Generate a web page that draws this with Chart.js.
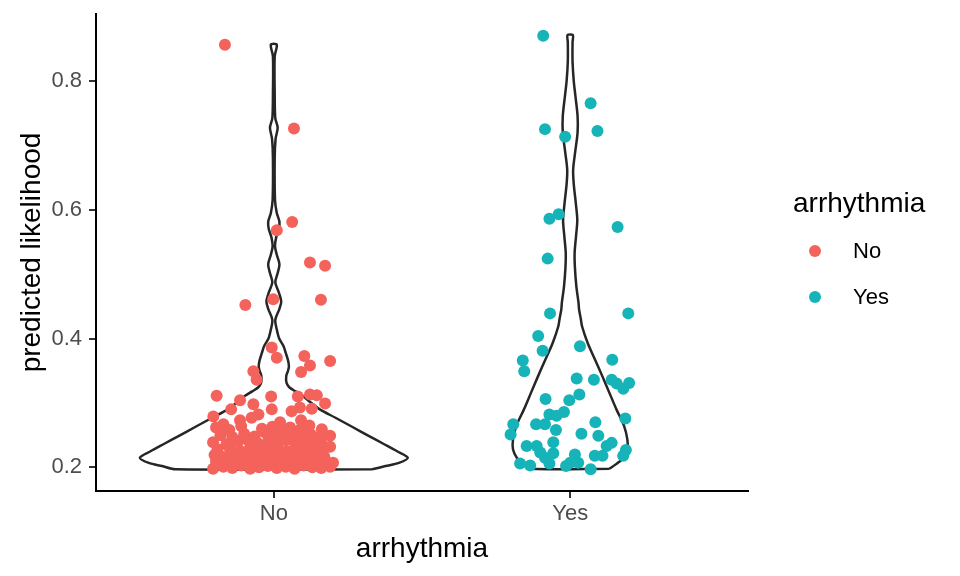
<!DOCTYPE html>
<html>
<head>
<meta charset="utf-8">
<script src="https://cdn.jsdelivr.net/npm/chart.js@4.4.1/dist/chart.umd.min.js"></script>
<style>
  html, body { margin: 0; padding: 0; background: #fff; }
  #wrap { width: 960px; height: 576px; }
</style>
</head>
<body>
<div id="wrap"><canvas id="violin-chart"></canvas></div>
<script>
const categories = ['No', 'Yes'];
const yTicks = [0.2, 0.4, 0.6, 0.8];
const xTitle = 'arrhythmia';
const yTitle = 'predicted likelihood';
const legendTitle = 'arrhythmia';

// jitter offset from the category centre, and predicted likelihood
const noJitter = [
  -0.165, 0.068, 0.062, 0.010, 0.122, 0.173, -0.002, 0.159, -0.096,
  -0.007, 0.010, 0.103, 0.122, 0.190, 0.092, -0.069, -0.058,
  -0.193, -0.114, -0.009, 0.081, 0.122, 0.145, 0.173, -0.069, -0.144, -0.007, 0.060, 0.088, 0.128,
  -0.204, -0.052, -0.075, 0.092, 0.021, -0.114, -0.170, 0.162, 0.190,
  -0.205, -0.17, -0.14, -0.11, -0.08, -0.05, -0.02, 0.01, 0.04, 0.07, 0.10, 0.13, 0.16, 0.19,
  -0.195, -0.16, -0.125, -0.095, -0.06, -0.03, 0.0, 0.03, 0.055, 0.085, 0.115, 0.145, 0.175, 0.2,
  -0.2, -0.17, -0.135, -0.1, -0.07, -0.04, -0.01, 0.02, 0.05, 0.08, 0.11, 0.14, 0.17,
  -0.19, -0.15, -0.115, -0.08, -0.045, -0.015, 0.015, 0.045, 0.075, 0.105, 0.135, 0.165, 0.19,
  -0.205, -0.16, -0.12, -0.09, -0.055, -0.02, 0.01, 0.04, 0.07, 0.1, 0.13, 0.16,
  -0.18, -0.14, -0.1, -0.065, -0.03, 0.0, 0.035, 0.065, 0.095, 0.125, 0.155,
  -0.195, -0.15, -0.11, -0.04, -0.005, 0.025, 0.055, 0.09, 0.12
];
const noValues = [
  0.856, 0.726, 0.581, 0.568, 0.518, 0.513, 0.461, 0.460, 0.452,
  0.386, 0.370, 0.373, 0.358, 0.365, 0.348, 0.349, 0.336,
  0.311, 0.304, 0.310, 0.310, 0.313, 0.312, 0.299, 0.298, 0.290, 0.290, 0.287, 0.293, 0.291,
  0.279, 0.282, 0.277, 0.273, 0.270, 0.273, 0.267, 0.259, 0.249,
  0.198, 0.201, 0.199, 0.203, 0.198, 0.200, 0.202, 0.199, 0.201, 0.198, 0.203, 0.200, 0.199, 0.201,
  0.209, 0.211, 0.207, 0.212, 0.208, 0.210, 0.213, 0.207, 0.211, 0.209, 0.212, 0.208, 0.210, 0.207,
  0.219, 0.216, 0.221, 0.218, 0.222, 0.217, 0.220, 0.216, 0.221, 0.218, 0.215, 0.220, 0.217,
  0.228, 0.231, 0.226, 0.230, 0.227, 0.232, 0.229, 0.225, 0.231, 0.228, 0.230, 0.226, 0.232,
  0.239, 0.236, 0.241, 0.243, 0.238, 0.240, 0.236, 0.242, 0.239, 0.237, 0.241, 0.238,
  0.250, 0.247, 0.252, 0.248, 0.254, 0.250, 0.246, 0.253, 0.249, 0.251, 0.247,
  0.262, 0.258, 0.264, 0.260, 0.263, 0.257, 0.262, 0.259, 0.265
];
const yesJitter = [
  -0.091, 0.069, -0.085, -0.017, 0.092, -0.039, -0.070, 0.160, -0.076, -0.068, 0.196,
  -0.108, -0.093, 0.033, -0.160, -0.155, 0.142, 0.022, 0.080, 0.140, 0.157, 0.179, 0.199,
  -0.083, -0.003, 0.031, -0.021, -0.046, -0.070, 0.186, -0.192, -0.201, -0.115, -0.085,
  -0.048, 0.085, 0.038, 0.095, -0.057, -0.147, -0.113, 0.123, 0.140, -0.057, -0.101,
  -0.085, 0.016, 0.083, 0.109, 0.188, 0.179, -0.169, -0.135, -0.070, -0.014, 0.000, 0.027, 0.069
];
const yesValues = [
  0.870, 0.765, 0.725, 0.713, 0.722, 0.593, 0.586, 0.573, 0.524, 0.439, 0.439,
  0.404, 0.381, 0.388, 0.366, 0.349, 0.367, 0.338, 0.336, 0.336, 0.330, 0.322, 0.331,
  0.306, 0.304, 0.313, 0.286, 0.280, 0.282, 0.276, 0.267, 0.251, 0.267, 0.267,
  0.258, 0.270, 0.252, 0.249, 0.239, 0.233, 0.233, 0.233, 0.238, 0.222, 0.223,
  0.215, 0.220, 0.218, 0.218, 0.227, 0.218, 0.206, 0.203, 0.206, 0.202, 0.207, 0.207, 0.197
];

// violin outlines: likelihood level (bottom to top) and half width
const noViolinY = [
  0.197, 0.202, 0.207, 0.215, 0.225, 0.237, 0.249, 0.263, 0.277, 0.290, 0.303, 0.311, 0.318,
  0.324, 0.331, 0.342, 0.350, 0.357, 0.366, 0.378, 0.388, 0.400, 0.414, 0.429, 0.445, 0.457,
  0.470, 0.487, 0.500, 0.515, 0.530, 0.543, 0.557, 0.570, 0.581, 0.595, 0.615, 0.680, 0.710,
  0.727, 0.742, 0.780, 0.838, 0.856
];
const noViolinW = [
  0.332, 0.377, 0.422, 0.452, 0.416, 0.368, 0.320, 0.264, 0.208, 0.155, 0.118, 0.097, 0.073,
  0.053, 0.043, 0.042, 0.048, 0.051, 0.048, 0.040, 0.033, 0.018, 0.010, 0.005, 0.018, 0.025,
  0.018, 0.005, 0.012, 0.019, 0.010, 0.004, 0.008, 0.017, 0.019, 0.010, 0.004, 0.003, 0.006,
  0.013, 0.005, 0.003, 0.003, 0.010
];
const yesViolinY = [
  0.198, 0.205, 0.215, 0.228, 0.243, 0.264, 0.290, 0.316, 0.342, 0.367, 0.393, 0.419, 0.430,
  0.445, 0.456, 0.480, 0.510, 0.533, 0.560, 0.584, 0.610, 0.640, 0.662, 0.690, 0.720, 0.745,
  0.775, 0.800, 0.830, 0.860, 0.871
];
const yesViolinW = [
  0.133, 0.155, 0.180, 0.193, 0.193, 0.182, 0.156, 0.132, 0.108, 0.084, 0.059, 0.040, 0.036,
  0.030, 0.028, 0.021, 0.016, 0.015, 0.020, 0.024, 0.019, 0.012, 0.010, 0.017, 0.025, 0.025,
  0.018, 0.012, 0.008, 0.008, 0.009
];

const colours = ['#F4625C', '#16B4B8'];
const fontFamily = '"Liberation Sans", Arial, sans-serif';

function violinOutline(centre, ys, ws) {
  const right = ys.map((y, i) => ({ x: centre + ws[i], y: y }));
  const left = ys.map((y, i) => ({ x: centre - ws[i], y: y })).reverse();
  return right.concat(left, [right[0]]);
}

function jitterPoints(centre, offsets, values) {
  return values.map((v, i) => ({ x: centre + offsets[i], y: v }));
}

// axis titles and the legend, drawn the ggplot way
const ggLabels = {
  id: 'ggLabels',
  afterDraw(chart) {
    const ctx = chart.ctx;
    const area = chart.chartArea;
    ctx.save();
    ctx.fillStyle = '#000';
    ctx.font = '28px ' + fontFamily;
    ctx.textAlign = 'center';
    ctx.textBaseline = 'alphabetic';
    ctx.fillText(xTitle, (area.left + area.right) / 2, 557);
    ctx.save();
    ctx.translate(40, (area.top + area.bottom) / 2);
    ctx.rotate(-Math.PI / 2);
    ctx.fillText(yTitle, 0, 0);
    ctx.restore();

    ctx.textAlign = 'left';
    ctx.fillText(legendTitle, 793, 212);
    ctx.font = '22px ' + fontFamily;
    ctx.textBaseline = 'middle';
    categories.forEach((cat, i) => {
      const y = 251 + i * 46;
      ctx.fillStyle = colours[i];
      ctx.beginPath();
      ctx.arc(815, y, 6, 0, Math.PI * 2);
      ctx.fill();
      ctx.fillStyle = '#000';
      ctx.fillText(cat, 853, y + 1);
    });
    ctx.restore();
  }
};

const ctx = document.getElementById('violin-chart').getContext('2d');

new Chart(ctx, {
  type: 'scatter',
  data: {
    datasets: [
      {
        label: 'No violin',
        data: violinOutline(1, noViolinY, noViolinW),
        showLine: true,
        tension: 0.3,
        borderColor: '#262626',
        borderWidth: 2.5,
        pointRadius: 0,
        fill: false,
        order: 2
      },
      {
        label: 'Yes violin',
        data: violinOutline(2, yesViolinY, yesViolinW),
        showLine: true,
        tension: 0.3,
        borderColor: '#262626',
        borderWidth: 2.5,
        pointRadius: 0,
        fill: false,
        order: 2
      },
      {
        label: categories[0],
        data: jitterPoints(1, noJitter, noValues),
        pointRadius: 6,
        pointBorderWidth: 0,
        pointBackgroundColor: colours[0],
        order: 1
      },
      {
        label: categories[1],
        data: jitterPoints(2, yesJitter, yesValues),
        pointRadius: 6,
        pointBorderWidth: 0,
        pointBackgroundColor: colours[1],
        order: 1
      }
    ]
  },
  options: {
    responsive: true,
    maintainAspectRatio: false,
    animation: false,
    layout: {
      padding: { left: 0, right: 212, top: 14, bottom: 0 }
    },
    plugins: {
      legend: { display: false },
      tooltip: { enabled: false }
    },
    scales: {
      x: {
        type: 'linear',
        min: 0.4,
        max: 2.6,
        afterBuildTicks: scale => {
          scale.ticks = categories.map((c, i) => ({ value: i + 1 }));
        },
        afterFit: scale => {
          scale.height = 85;
          scale.paddingLeft = 0;
          scale.paddingRight = 0;
        },
        ticks: {
          callback: value => categories[Math.round(value) - 1],
          color: '#4d4d4d',
          font: { family: fontFamily, size: 22 },
          padding: 3,
          autoSkip: false,
          maxRotation: 0
        },
        grid: { drawOnChartArea: false, tickLength: 7, color: '#333', lineWidth: 2 },
        border: { display: true, color: '#000', width: 2 }
      },
      y: {
        type: 'linear',
        min: 0.1633,
        max: 0.9037,
        afterBuildTicks: scale => {
          scale.ticks = yTicks.map(v => ({ value: v }));
        },
        afterFit: scale => {
          scale.width = 96;
          scale.paddingTop = 0;
          scale.paddingBottom = 0;
        },
        ticks: {
          callback: value => value.toFixed(1),
          color: '#4d4d4d',
          font: { family: fontFamily, size: 22 },
          padding: 7
        },
        grid: { drawOnChartArea: false, tickLength: 7, color: '#333', lineWidth: 2 },
        border: { display: true, color: '#000', width: 2 }
      }
    }
  },
  plugins: [ggLabels]
});
</script>
</body>
</html>
